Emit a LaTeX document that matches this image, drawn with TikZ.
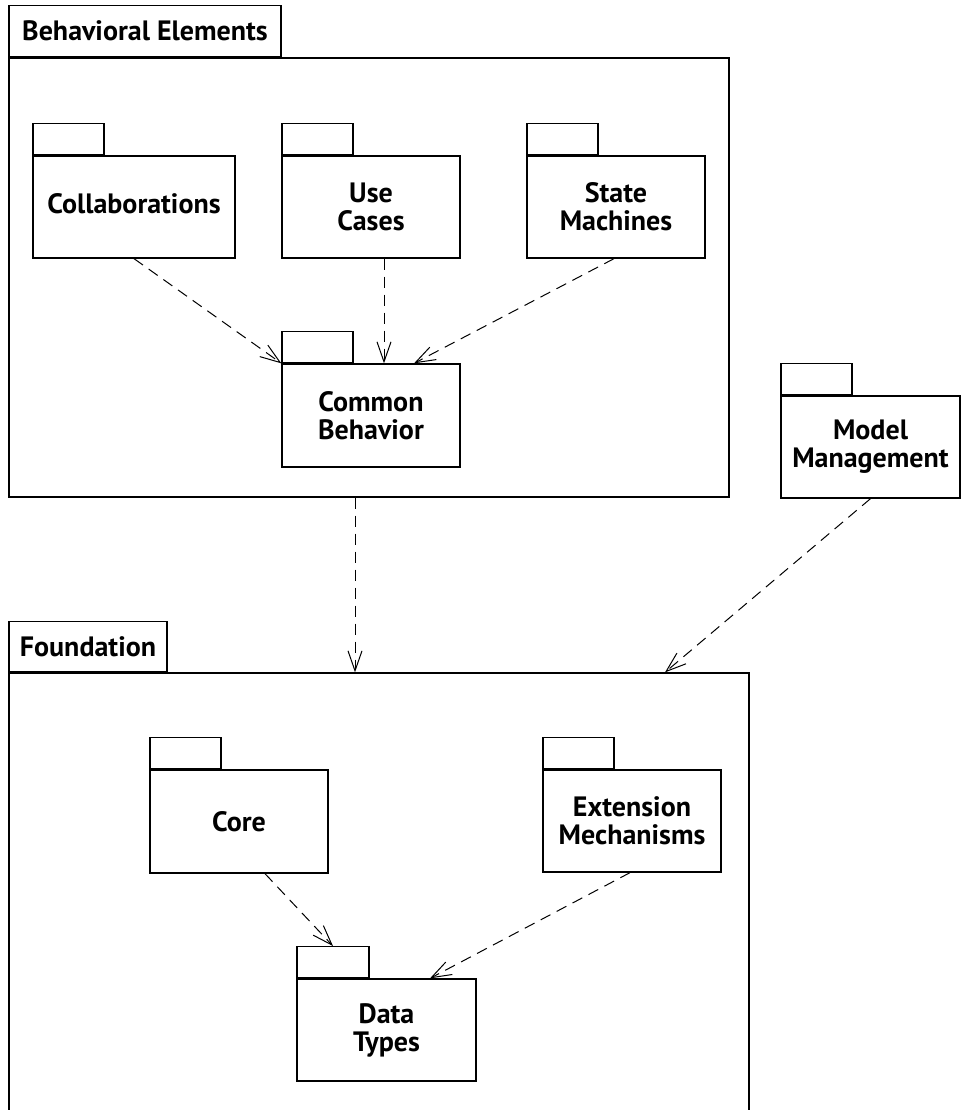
\documentclass[tikz,border=0pt]{standalone}
\usepackage{fontspec}
\setmainfont{PT Sans}
\usetikzlibrary{arrows.meta,calc}
\begin{document}
\begin{tikzpicture}[x=1pt,y=-1pt,
  box/.style={draw, line width=1.3pt, inner sep=0pt, align=center,
    font=\fontsize{28}{28}\selectfont\bfseries},
  pkgbody/.style={box, minimum width=178pt, minimum height=102pt},
  pkgtab/.style={draw, line width=1.3pt, inner sep=0pt, minimum width=71pt, minimum height=31pt, anchor=south west},
  dep/.style={line width=1pt, dash pattern=on 11pt off 7pt, -{Straight Barb[length=20pt,width=14pt,line width=1pt]}}
]
\useasboundingbox (0,0) rectangle (961,1110);
\begin{scope}
\clip (0,0) rectangle (961,1110);
% Behavioral Elements
\node[box, minimum width=720pt, minimum height=439pt] (beh) at (369,277.5) {};
\node[box, minimum width=272pt, minimum height=51pt, anchor=south west] (behtab) at (beh.north west) {Behavioral Elements};
% Foundation
\node[box, minimum width=740pt, minimum height=480pt] (found) at (379,913) {};
\node[box, minimum width=158pt, minimum height=50pt, anchor=south west] (foundtab) at (found.north west) {Foundation};
\end{scope}
% packages
\node[pkgbody, minimum width=202pt] (collab) at (134,207) {\raisebox{7pt}{Collaborations}};
\node[pkgtab] (collabtab) at (collab.north west) {};
\node[pkgbody] (uc) at (371,207) {Use\\Cases};
\node[pkgtab] (uctab) at (uc.north west) {};
\node[pkgbody] (sm) at (616,207) {State\\Machines};
\node[pkgtab] (smtab) at (sm.north west) {};
\node[pkgbody, minimum height=103pt] (cb) at (371,415.5) {Common\\Behavior};
\node[pkgtab] (cbtab) at (cb.north west) {};
\node[pkgbody, minimum width=179pt] (mm) at (870.5,447) {Model\\Management};
\node[pkgtab] (mmtab) at (mm.north west) {};
\node[pkgbody, minimum height=103pt] (core) at (239,821.5) {Core};
\node[pkgtab] (coretab) at (core.north west) {};
\node[pkgbody] (ext) at (632,821) {Extension\\Mechanisms};
\node[pkgtab] (exttab) at (ext.north west) {};
\node[pkgbody, minimum width=179pt] (dt) at (386.5,1030) {Data\\Types};
\node[pkgtab, minimum width=72pt] (dttab) at (dt.north west) {};
% dependencies
\draw[dep] (collab.south) -- (cb.north west);
\draw[dep] ($(uc.south)+(13,0)$) -- ($(cb.north)+(13,0)$);
\draw[dep] ($(sm.south)+(-2,0)$) -- ($(cb.north)+(43,0)$);
\draw[dep] ($(beh.south)+(-14,0)$) -- ($(found.north)+(-24,0)$);
\draw[dep] (mm.south) -- ($(found.north)+(286,0)$);
\draw[dep] ($(core.south)+(26,0)$) -- (dttab.north);
\draw[dep] ($(ext.south)+(-2,0)$) -- ($(dt.north)+(43.5,0)$);
\end{tikzpicture}
\end{document}
